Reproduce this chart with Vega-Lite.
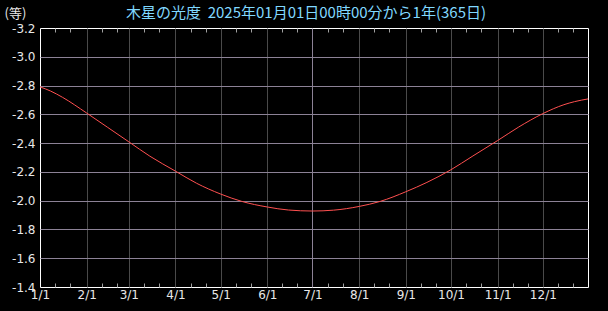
{
  "$schema": "https://vega.github.io/schema/vega-lite/v6.json",
  "width": 548,
  "height": 259,
  "autosize": "none",
  "padding": {"left": 40, "top": 28, "right": 20, "bottom": 24},
  "background": "#000000",
  "config": {
    "view": {"stroke": "#ffffff", "strokeWidth": 1},
    "font": "DejaVu Sans"
  },
  "title": {
    "text": "木星の光度\u00a0\u00a02025年01月01日00時00分から1年(365日)",
    "color": "#80d8ff",
    "font": "Noto Sans CJK JP",
    "fontSize": 15,
    "fontWeight": "normal",
    "anchor": "middle",
    "offset": 4,
    "dy": 18,
    "dx": -8
  },
  "data": {
    "values": [
      {"date": "2025-01-01", "mag": -2.791},
      {"date": "2025-01-08", "mag": -2.762},
      {"date": "2025-01-16", "mag": -2.718},
      {"date": "2025-02-01", "mag": -2.609},
      {"date": "2025-02-15", "mag": -2.509},
      {"date": "2025-03-01", "mag": -2.409},
      {"date": "2025-03-15", "mag": -2.309},
      {"date": "2025-04-01", "mag": -2.205},
      {"date": "2025-04-15", "mag": -2.121},
      {"date": "2025-05-01", "mag": -2.046},
      {"date": "2025-05-15", "mag": -1.995},
      {"date": "2025-06-01", "mag": -1.956},
      {"date": "2025-06-15", "mag": -1.935},
      {"date": "2025-07-01", "mag": -1.928},
      {"date": "2025-07-15", "mag": -1.934},
      {"date": "2025-08-01", "mag": -1.96},
      {"date": "2025-08-15", "mag": -1.995},
      {"date": "2025-09-01", "mag": -2.062},
      {"date": "2025-09-15", "mag": -2.127},
      {"date": "2025-10-01", "mag": -2.215},
      {"date": "2025-10-15", "mag": -2.307},
      {"date": "2025-11-01", "mag": -2.418},
      {"date": "2025-11-15", "mag": -2.512},
      {"date": "2025-12-01", "mag": -2.605},
      {"date": "2025-12-15", "mag": -2.667},
      {"date": "2025-12-22", "mag": -2.688},
      {"date": "2025-12-31", "mag": -2.707}
    ]
  },
  "layer": [
    {
      "mark": {"type": "line", "color": "#ff5050", "strokeWidth": 1, "interpolate": "monotone"},
      "encoding": {
        "x": {
          "field": "date",
          "type": "temporal",
          "scale": {
            "type": "utc",
            "domain": [
              {"year": 2025, "month": 1, "date": 1, "utc": true},
              {"year": 2025, "month": 12, "date": 31, "utc": true}
            ]
          },
          "axis": {
            "orient": "bottom",
            "title": null,
            "domain": false,
            "values": [
              {"year": 2025, "month": 1, "date": 1, "utc": true},
              {"year": 2025, "month": 1, "date": 11, "utc": true},
              {"year": 2025, "month": 1, "date": 21, "utc": true},
              {"year": 2025, "month": 2, "date": 1, "utc": true},
              {"year": 2025, "month": 2, "date": 11, "utc": true},
              {"year": 2025, "month": 2, "date": 21, "utc": true},
              {"year": 2025, "month": 3, "date": 1, "utc": true},
              {"year": 2025, "month": 3, "date": 11, "utc": true},
              {"year": 2025, "month": 3, "date": 21, "utc": true},
              {"year": 2025, "month": 4, "date": 1, "utc": true},
              {"year": 2025, "month": 4, "date": 11, "utc": true},
              {"year": 2025, "month": 4, "date": 21, "utc": true},
              {"year": 2025, "month": 5, "date": 1, "utc": true},
              {"year": 2025, "month": 5, "date": 11, "utc": true},
              {"year": 2025, "month": 5, "date": 21, "utc": true},
              {"year": 2025, "month": 6, "date": 1, "utc": true},
              {"year": 2025, "month": 6, "date": 11, "utc": true},
              {"year": 2025, "month": 6, "date": 21, "utc": true},
              {"year": 2025, "month": 7, "date": 1, "utc": true},
              {"year": 2025, "month": 7, "date": 11, "utc": true},
              {"year": 2025, "month": 7, "date": 21, "utc": true},
              {"year": 2025, "month": 8, "date": 1, "utc": true},
              {"year": 2025, "month": 8, "date": 11, "utc": true},
              {"year": 2025, "month": 8, "date": 21, "utc": true},
              {"year": 2025, "month": 9, "date": 1, "utc": true},
              {"year": 2025, "month": 9, "date": 11, "utc": true},
              {"year": 2025, "month": 9, "date": 21, "utc": true},
              {"year": 2025, "month": 10, "date": 1, "utc": true},
              {"year": 2025, "month": 10, "date": 11, "utc": true},
              {"year": 2025, "month": 10, "date": 21, "utc": true},
              {"year": 2025, "month": 11, "date": 1, "utc": true},
              {"year": 2025, "month": 11, "date": 11, "utc": true},
              {"year": 2025, "month": 11, "date": 21, "utc": true},
              {"year": 2025, "month": 12, "date": 1, "utc": true},
              {"year": 2025, "month": 12, "date": 11, "utc": true},
              {"year": 2025, "month": 12, "date": 21, "utc": true}
            ],
            "labelExpr": "utcdate(datum.value) == 1 ? (utcmonth(datum.value) + 1) + '/1' : ''",
            "labelFlush": false,
            "labelBound": false,
            "labelOverlap": false,
            "labelColor": "#e8e8e8",
            "labelFontSize": 12,
            "labelPadding": 6,
            "tickSize": -4,
            "tickColor": "#a0a0a0",
            "tickOpacity": {"condition": {"test": "utcdate(datum.value) == 1", "value": 0}, "value": 1},
            "grid": true,
            "gridOpacity": {"condition": {"test": "utcdate(datum.value) == 1 && utcmonth(datum.value) > 0", "value": 1}, "value": 0},
            "gridColor": {"condition": {"test": "utcmonth(datum.value) == 6", "value": "#8c8296"}, "value": "#4a4a4a"},
            "gridWidth": 1
          }
        },
        "y": {
          "field": "mag",
          "type": "quantitative",
          "scale": {"domain": [-3.2, -1.4], "reverse": true, "nice": false, "zero": false},
          "axis": {
            "values": [-3.2, -3.0, -2.8, -2.6, -2.4, -2.2, -2.0, -1.8, -1.6, -1.4],
            "labelExpr": "(datum.value < 0 ? '-' : '') + format(abs(datum.value), '.1f')",
            "labelColor": "#e8e8e8",
            "labelFontSize": 12,
            "labelPadding": 5,
            "labelFlush": false,
            "labelBound": false,
            "labelOverlap": false,
            "ticks": false,
            "domain": false,
            "grid": true,
            "gridColor": "#8c8296",
            "gridOpacity": {"condition": {"test": "datum.value > -3.19 && datum.value < -1.41", "value": 1}, "value": 0},
            "title": "(等)",
            "titleAngle": 0,
            "titleX": -36,
            "titleY": -15,
            "titleAlign": "left",
            "titleBaseline": "middle",
            "titleColor": "#e8e8e8",
            "titleFont": "Noto Sans CJK JP",
            "titleFontSize": 13,
            "titleFontWeight": "normal"
          }
        }
      }
    },
    {
      "mark": {"type": "line", "opacity": 0},
      "encoding": {
        "x": {
          "field": "date",
          "type": "temporal",
          "axis": {
            "orient": "top",
            "title": null,
            "domain": false,
            "labels": false,
            "grid": false,
            "values": [
              {"year": 2025, "month": 1, "date": 11, "utc": true},
              {"year": 2025, "month": 1, "date": 21, "utc": true},
              {"year": 2025, "month": 2, "date": 11, "utc": true},
              {"year": 2025, "month": 2, "date": 21, "utc": true},
              {"year": 2025, "month": 3, "date": 11, "utc": true},
              {"year": 2025, "month": 3, "date": 21, "utc": true},
              {"year": 2025, "month": 4, "date": 11, "utc": true},
              {"year": 2025, "month": 4, "date": 21, "utc": true},
              {"year": 2025, "month": 5, "date": 11, "utc": true},
              {"year": 2025, "month": 5, "date": 21, "utc": true},
              {"year": 2025, "month": 6, "date": 11, "utc": true},
              {"year": 2025, "month": 6, "date": 21, "utc": true},
              {"year": 2025, "month": 7, "date": 11, "utc": true},
              {"year": 2025, "month": 7, "date": 21, "utc": true},
              {"year": 2025, "month": 8, "date": 11, "utc": true},
              {"year": 2025, "month": 8, "date": 21, "utc": true},
              {"year": 2025, "month": 9, "date": 11, "utc": true},
              {"year": 2025, "month": 9, "date": 21, "utc": true},
              {"year": 2025, "month": 10, "date": 11, "utc": true},
              {"year": 2025, "month": 10, "date": 21, "utc": true},
              {"year": 2025, "month": 11, "date": 11, "utc": true},
              {"year": 2025, "month": 11, "date": 21, "utc": true},
              {"year": 2025, "month": 12, "date": 11, "utc": true},
              {"year": 2025, "month": 12, "date": 21, "utc": true}
            ],
            "tickSize": -4,
            "tickColor": "#a0a0a0"
          }
        }
      }
    }
  ],
  "resolve": {"axis": {"x": "independent"}}
}
